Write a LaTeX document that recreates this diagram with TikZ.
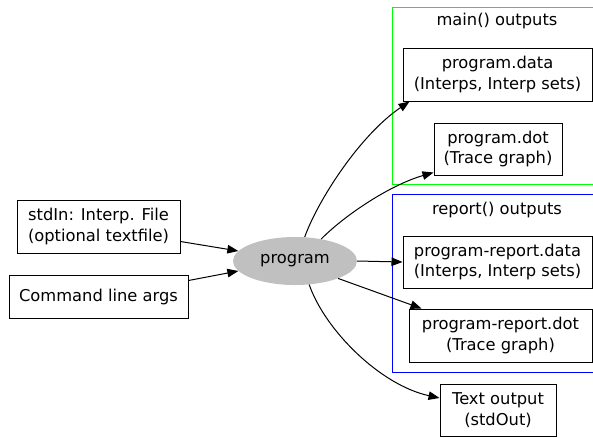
\documentclass[tikz,border=0pt]{standalone}
\usepackage{fontspec}
\setmainfont{DejaVu Sans}
\usetikzlibrary{arrows.meta,shapes.geometric}
\begin{document}
\begin{tikzpicture}[x=1pt,y=-1pt,
  txt/.style={font=\fontsize{16.3}{20.5}\selectfont},
  box/.style={txt,draw,line width=1pt,align=center,inner sep=0pt},
  proc/.style={txt,ellipse,fill=procgray,draw=none,inner sep=0pt,
    minimum width=124pt,minimum height=48pt},
  cluster/.style={line width=1pt},
  edge/.style={line width=1pt,-{Triangle[length=11pt,width=8.5pt]}}]
  \definecolor{procgray}{HTML}{C0C0C0}
  \clip (0,0) rectangle (593,437);

  % output groups
  \draw[cluster,draw={rgb,255:red,0;green,255;blue,0}] (392,7) rectangle (610,184);
  \draw[cluster,draw={rgb,255:red,0;green,0;blue,255}] (392,194) rectangle (610,372);
  \node[txt] (mainlbl) at (497,21) {main() outputs};
  \node[txt] (replbl) at (497,210) {report() outputs};

  % inputs
  \node[box,minimum width=163pt,minimum height=53pt] (stdin) at (98.5,226.5)
    {stdIn: Interp. File\\(optional textfile)};
  \node[box,minimum width=179pt,minimum height=43pt] (cmd) at (98.5,296.5)
    {Command line args};

  % the program
  \node[proc] (prog) at (295,261) {program};

  % outputs
  \node[box,minimum width=189pt,minimum height=53pt] (pdata) at (497.5,74.5)
    {program.data\\(Interps, Interp sets)};
  \node[box,minimum width=128pt,minimum height=52pt] (pdot) at (498,149)
    {program.dot\\(Trace graph)};
  \node[box,minimum width=189pt,minimum height=52pt] (rdata) at (497.5,262)
    {program-report.data\\(Interps, Interp sets)};
  \node[box,minimum width=183pt,minimum height=53pt] (rdot) at (500.5,335.5)
    {program-report.dot\\(Trace graph)};
  \node[box,minimum width=116pt,minimum height=52pt] (textout) at (498,410)
    {Text output\\(stdOut)};

  % connectors
  \draw[edge] ([yshift=-15pt]stdin.east) -- (prog.170);
  \draw[edge] ([yshift=16pt]cmd.east) -- (prog.190);
  \draw[edge] (prog.68) .. controls (318,200) and (360,135) ..
    ([xshift=7pt]pdata.south west);
  \draw[edge] (prog.40) .. controls (345,215) and (390,185) ..
    ([yshift=3pt]pdot.south west);
  \draw[edge] (prog.east) -- (rdata.west);
  \draw[edge] (prog.-22) -- ([xshift=13pt]rdot.north west);
  \draw[edge] (prog.-59) .. controls (325,330) and (380,385) ..
    ([yshift=12pt]textout.west);
\end{tikzpicture}
\end{document}
